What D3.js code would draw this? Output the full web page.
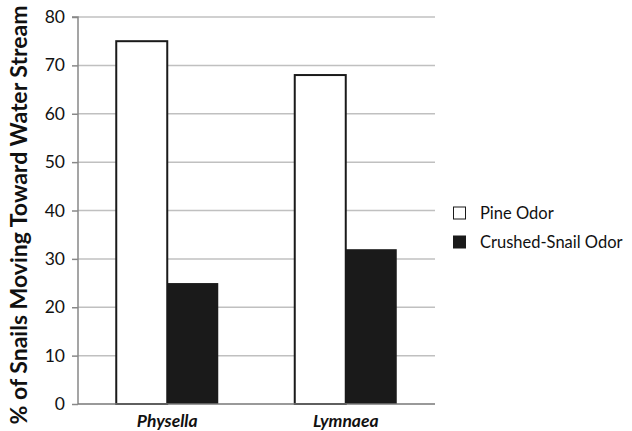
<!DOCTYPE html>
<html><head><meta charset="utf-8">
<script src="https://cdn.jsdelivr.net/npm/d3@7"></script>
<style>body{margin:0;background:#fff}</style>
</head><body>
<svg id="chart" width="632" height="431"></svg>
<script>
const categories = ["Physella", "Lymnaea"];
const seriesNames = ["Pine Odor", "Crushed-Snail Odor"];
const pineOdor = [75, 68];
const crushedSnailOdor = [25, 32];
const yTicks = [0, 10, 20, 30, 40, 50, 60, 70, 80];
const yTitle = "% of Snails Moving Toward Water Stream";

const svg = d3.select("#chart");
const font = "Lato, 'Open Sans', sans-serif";
const plotL = 78, plotR = 435, plotT = 17, plotB = 404;

const x = d3.scaleBand().domain(categories).range([plotL, plotR]).paddingInner(0).paddingOuter(0);
const y = d3.scaleLinear().domain([0, 80]).range([plotB, plotT]);
const fills = ["#ffffff", "#1a1a1a"];
const seriesVals = [pineOdor, crushedSnailOdor];

// gridlines
svg.append("g").selectAll("line").data(yTicks.filter(d => d > 0)).join("line")
  .attr("x1", plotL).attr("x2", plotR)
  .attr("y1", d => y(d)).attr("y2", d => y(d))
  .attr("stroke", "#c0c0c0").attr("stroke-width", 1.5);

// bars
const barW = x.bandwidth() / 3.5;
seriesVals.forEach((vals, si) => {
  svg.append("g").selectAll("rect").data(categories).join("rect")
    .attr("x", (c) => x(c) + x.bandwidth() / 2 - barW + si * barW)
    .attr("width", barW)
    .attr("y", (c, i) => y(vals[i]))
    .attr("height", (c, i) => y(0) - y(vals[i]))
    .attr("fill", fills[si])
    .attr("stroke", "#1a1a1a").attr("stroke-width", si === 0 ? 2 : 0);
});

// y axis
const yAxis = d3.axisLeft(y).tickValues(yTicks).tickSize(6).tickPadding(7);
const gy = svg.append("g").attr("transform", `translate(${plotL},0)`).call(yAxis);
gy.select(".domain").attr("stroke", "#888").attr("stroke-width", 1.5).attr("d", `M-6,${plotT}H0V${plotB}`);
gy.selectAll(".tick line").attr("stroke", "#888").attr("stroke-width", 1.5);
gy.selectAll(".tick text").attr("font-family", font).attr("font-size", 17.5).attr("fill", "#111");

// x axis baseline
svg.append("line").attr("x1", plotL).attr("x2", plotR).attr("y1", plotB).attr("y2", plotB)
  .attr("stroke", "#777").attr("stroke-width", 1.5);

// x labels
svg.append("g").selectAll("text").data(categories).join("text")
  .attr("x", c => x(c) + x.bandwidth() / 2).attr("y", 427)
  .attr("text-anchor", "middle")
  .attr("font-family", font).attr("font-size", 17.5).attr("font-weight", "bold").attr("font-style", "italic")
  .attr("fill", "#111")
  .text(d => d);

// y title
svg.append("text")
  .attr("transform", `translate(27,215) rotate(-90)`)
  .attr("text-anchor", "middle")
  .attr("font-family", font).attr("font-size", 23).attr("font-weight", "bold").attr("fill", "#111")
  .text(yTitle);

// legend
const legend = svg.append("g");
seriesNames.forEach((name, i) => {
  const cy = 213 + i * 29;
  legend.append("rect").attr("x", 453.5).attr("y", cy - 6).attr("width", 12).attr("height", 12)
    .attr("fill", fills[i]).attr("stroke", "#1a1a1a").attr("stroke-width", 1);
  legend.append("text").attr("x", 480).attr("y", cy).attr("dy", "0.35em")
    .attr("font-family", font).attr("font-size", 16.5).attr("fill", "#111").text(name);
});
</script>
</body></html>
